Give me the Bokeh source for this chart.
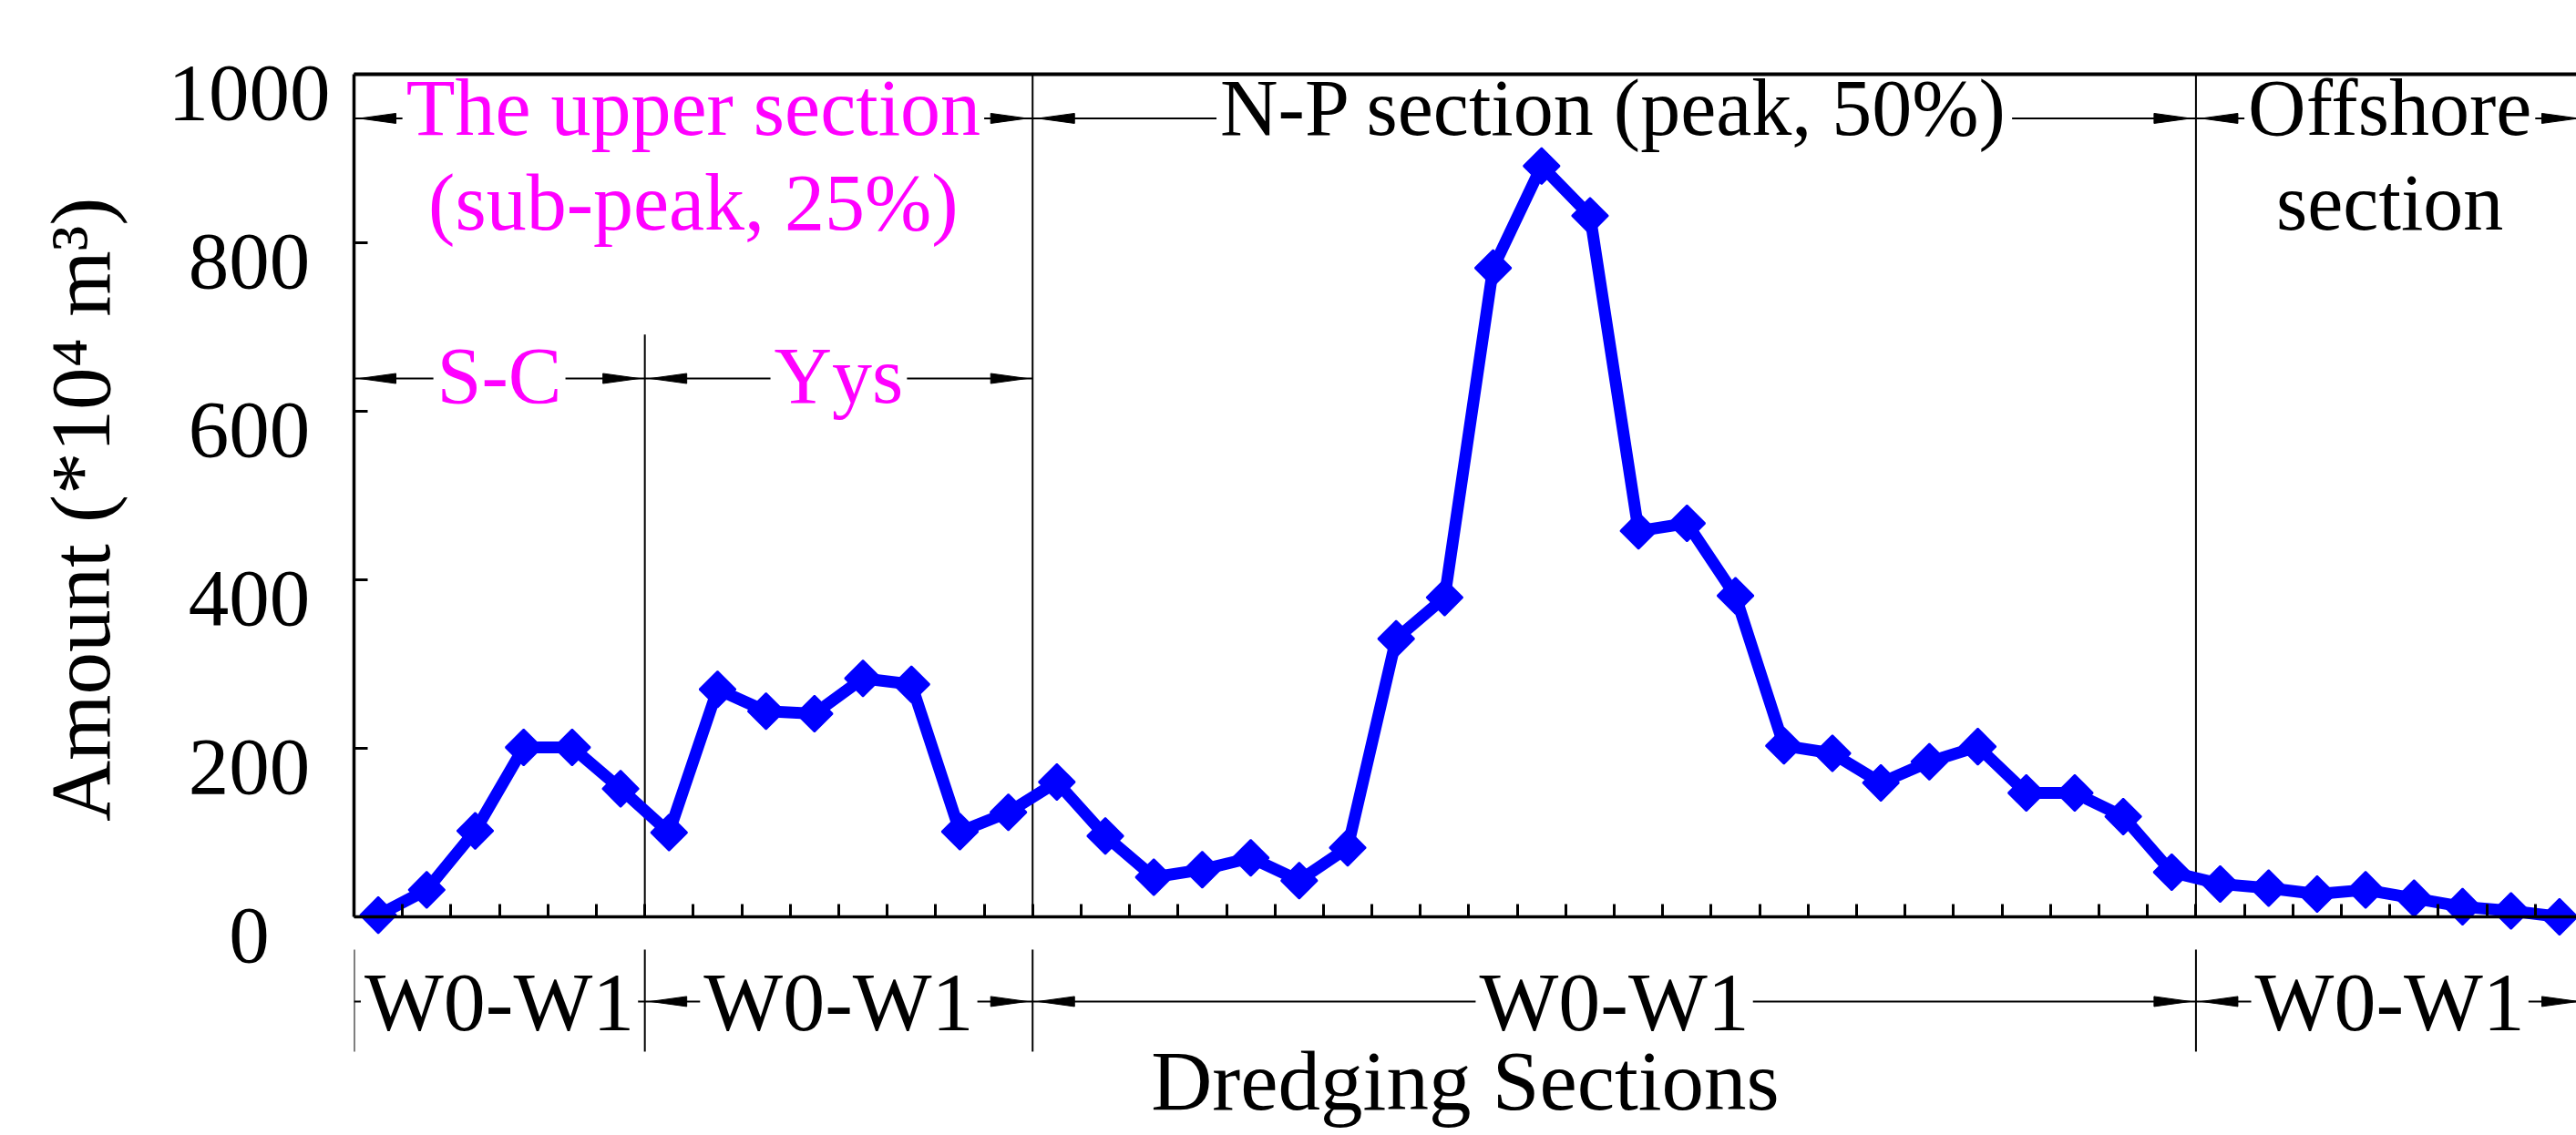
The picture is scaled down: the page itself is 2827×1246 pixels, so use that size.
import numpy as np
from bokeh.plotting import figure
from bokeh.models import Range1d, LinearAxis, FixedTicker, ColumnDataSource
from bokeh.core.properties import value
from bokeh.embed import file_html
from bokeh.resources import INLINE

# ---------------- data ----------------
sc_amount = [2, 32, 102, 201, 201, 152]
yys_amount = [100, 270, 244, 241, 283, 276, 101, 124]
np_amount = [160, 96, 47, 56, 70, 43, 82, 330, 379, 770, 891, 832,
             458, 467, 381, 203, 194, 159, 184, 202, 147, 147, 119, 53]
off_amount = [39, 34, 27, 32, 22, 12, 7, 0]

section_counts = [6, 8, 24, 8]          # S-C, Yys, N-P, Offshore
y_ticks = [0, 200, 400, 600, 800, 1000]

y_title = "Amount (*10\u2074 m\u00b3)"
x_title = "Dredging Sections"
bottom_label = "W0-W1"
upper_title = ["The upper section", "(sub-peak, 25%)"]
sub_titles = ["S-C", "Yys"]
np_title = "N-P section (peak, 50%)"
off_title = ["Offshore", "section"]

# ---------------- styling / layout constants ----------------
FONT = "Liberation Serif"
MAGENTA = "#FF00FF"
BLUE = "#0000FF"
W, H = 2827, 1246
BORDER_L, BORDER_T = 388, 81
Y_LO, Y_HI = -259.5, 1000
X_LO, X_HI = 0, 45.85
LABEL_SHIFT = 21.6                              # y tick labels sit a little below their ticks
PX_X = (W - BORDER_L) / (X_HI - X_LO)           # pixels per x unit
PX_Y = (H - BORDER_T) / (Y_HI - Y_LO)           # pixels per y unit
TITLE_PAD = "\u00a0" * 9                        # lifts the rotated y title to the plotted span
QSP = "\u2005"                                  # quarter-em space (= half a digit)

amounts = sc_amount + yys_amount + np_amount + off_amount
n = len(amounts)
xpos = np.arange(n) + 0.5
edges = np.concatenate([[0], np.cumsum(section_counts)])

# tick labels centred in a column (as in the reference): pad shorter ones on the right
widest = max(len(str(t)) for t in y_ticks)
tick_text = {t: str(t) + QSP * (widest - len(str(t))) for t in y_ticks}

p = figure(width=W, height=H,
           x_range=Range1d(X_LO, X_HI), y_range=Range1d(Y_LO, Y_HI),
           x_axis_type=None, y_axis_type=None,
           output_backend="svg", toolbar_location=None,
           min_border_left=BORDER_L, min_border_right=0,
           min_border_top=BORDER_T, min_border_bottom=0)
p.outline_line_color = None
p.background_fill_color = "white"

# ---- y axis: line + inward ticks ----
ytick_axis = LinearAxis(ticker=FixedTicker(ticks=y_ticks), bounds=(0, 1000),
                        axis_line_width=3.5, axis_line_color="black",
                        major_tick_in=15, major_tick_out=0, major_tick_line_width=3,
                        minor_tick_in=0, minor_tick_out=0,
                        major_label_text_font_size="0px", major_label_text_color=None,
                        major_label_standoff=0)
p.add_layout(ytick_axis, "left")

# ---- y axis labels (slightly lowered and centred, as in the reference) ----
p.extra_y_ranges = {"ylab": Range1d(Y_LO + LABEL_SHIFT, Y_HI + LABEL_SHIFT)}
ylab_axis = LinearAxis(y_range_name="ylab", ticker=FixedTicker(ticks=y_ticks),
                       bounds=(0, 1000),
                       axis_line_color=None, major_tick_line_color=None,
                       major_tick_in=0, major_tick_out=0,
                       minor_tick_in=0, minor_tick_out=0,
                       major_label_overrides=tick_text,
                       major_label_text_font=FONT, major_label_text_font_size="89px",
                       major_label_text_color="black", major_label_standoff=26,
                       axis_label=TITLE_PAD + y_title, axis_label_text_font=FONT,
                       axis_label_text_font_size="93px",
                       axis_label_text_font_style="normal",
                       axis_label_text_color="black", axis_label_standoff=42)
p.add_layout(ylab_axis, "left")

# ---- x axis at y = 0 with inward ticks at every section boundary ----
xaxis = LinearAxis(fixed_location=0,
                   ticker=FixedTicker(ticks=list(range(0, n + 1))),
                   axis_line_width=3.5, axis_line_color="black",
                   major_tick_in=14, major_tick_out=0, major_tick_line_width=3,
                   minor_tick_in=0, minor_tick_out=0,
                   major_label_text_font_size="0px", major_label_text_color=None,
                   major_label_standoff=0,
                   axis_label=x_title, axis_label_text_font=FONT,
                   axis_label_text_font_size="93px",
                   axis_label_text_font_style="normal",
                   axis_label_text_color="black", axis_label_standoff=128)
p.add_layout(xaxis, "below")

# ---- top frame line ----
top_axis = LinearAxis(ticker=FixedTicker(ticks=[]), axis_line_width=4,
                      axis_line_color="black", major_tick_in=0, major_tick_out=0,
                      minor_tick_in=0, minor_tick_out=0,
                      major_label_text_font_size="0px")
p.add_layout(top_axis, "above")

# ---- section separators ----
p.segment(x0=[edges[1], edges[2], edges[3]], y0=[0, 0, 0],
          x1=[edges[1], edges[2], edges[3]], y1=[691, Y_HI, Y_HI],
          line_color="black", line_width=2)
BOT_TOP, BOT_BOT = -38.9, -160
p.segment(x0=list(edges), y0=[BOT_TOP] * len(edges), x1=list(edges),
          y1=[BOT_BOT] * len(edges), line_color="black", line_width=2)

# ---- dimension arrows ----
HEAD_LEN = 40 / PX_X
HEAD_GAP = 6 / PX_X
HEAD_HW = 5.5 / PX_Y


def arrows(groups, y):
    p.segment(x0=[a for a, b in groups], y0=[y] * len(groups),
              x1=[b for a, b in groups], y1=[y] * len(groups),
              line_color="black", line_width=2)
    xs, ys = [], []
    for a, b in groups:
        t = a + HEAD_GAP
        xs.append([t, t + HEAD_LEN, t + HEAD_LEN])
        ys.append([y, y + HEAD_HW, y - HEAD_HW])
        t = b - HEAD_GAP
        xs.append([t, t - HEAD_LEN, t - HEAD_LEN])
        ys.append([y, y + HEAD_HW, y - HEAD_HW])
    p.patches(xs, ys, fill_color="black", line_color="black", line_width=1)


def label(x, y, txt, color, size="88px"):
    p.text(x=x, y=y, text=txt, text_font=value(FONT), text_font_size=size,
           text_color=color, text_align="center", text_baseline="middle",
           background_fill_color="white", padding=4)


ROW1, ROW1_TXT, ROW1B_TXT = 947.6, 960.3, 848
ROW2, ROW2_TXT = 638.9, 642.5
ROWB, ROWB_TXT = -100.5, -101.4

upper = (edges[0], edges[2])
arrows([upper, (edges[2], edges[3]), (edges[3], edges[4])], ROW1)
arrows([(edges[0], edges[1]), (edges[1], edges[2])], ROW2)
arrows([(edges[i], edges[i + 1]) for i in range(4)], ROWB)

label([(upper[0] + upper[1]) / 2], [ROW1_TXT], [upper_title[0]], MAGENTA)
label([(upper[0] + upper[1]) / 2], [ROW1B_TXT], [upper_title[1]], MAGENTA)
label([(edges[2] + edges[3]) / 2], [ROW1_TXT], [np_title], "black")
label([(edges[3] + edges[4]) / 2], [ROW1_TXT], [off_title[0]], "black")
label([(edges[3] + edges[4]) / 2], [ROW1B_TXT], [off_title[1]], "black")
label([(edges[0] + edges[1]) / 2, (edges[1] + edges[2]) / 2], [ROW2_TXT] * 2,
      sub_titles, MAGENTA)
label([(edges[i] + edges[i + 1]) / 2 for i in range(4)], [ROWB_TXT] * 4,
      [bottom_label] * 4, "black", size="92px")

# ---- the data ----
src = ColumnDataSource(dict(x=xpos, amount=amounts))
p.line("x", "amount", source=src, line_color=BLUE, line_width=13)
p.scatter("x", "amount", source=src, marker="square", angle=np.pi / 4, size=28,
          fill_color=BLUE, line_color=BLUE, line_width=2)

open("out.html", "w").write(file_html(p, INLINE))
